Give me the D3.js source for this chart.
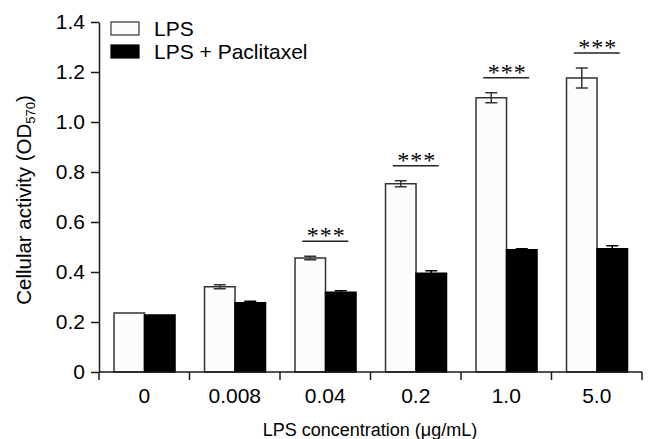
<!DOCTYPE html>
<html>
<head>
<meta charset="utf-8">
<script src="https://cdn.jsdelivr.net/npm/d3@7"></script>
<style>
  html, body { margin: 0; padding: 0; background: #fff; }
  svg { display: block; }
  text { font-family: "Liberation Sans", Arial, Helvetica, sans-serif; fill: #000; }
</style>
</head>
<body>
<svg id="chart" width="648" height="439"></svg>
<script>
// ---- data ----
const categories = ["0", "0.008", "0.04", "0.2", "1.0", "5.0"];
const seriesNames = ["LPS", "LPS + Paclitaxel"];
const lpsValues = [0.236, 0.341, 0.456, 0.753, 1.097, 1.176];
const lpsErrors = [0.000, 0.008, 0.007, 0.012, 0.020, 0.040];
const pacValues = [0.228, 0.277, 0.319, 0.395, 0.489, 0.493];
const pacErrors = [0.000, 0.006, 0.006, 0.010, 0.004, 0.012];
const significance = ["", "", "***", "***", "***", "***"];
const yTicks = [0, 0.2, 0.4, 0.6, 0.8, 1.0, 1.2, 1.4];

// ---- layout ----
const svg = d3.select("#chart");
const mLeft = 99, mRight = 642, mTop = 22, mBottom = 372;
const axisColor = "#1a1a1a";

const x0 = d3.scaleBand().domain(categories).range([mLeft, mRight]).padding(0);
const x1 = d3.scaleBand().domain(seriesNames)
  .range([x0.bandwidth() * 0.166, x0.bandwidth() * 0.84]).padding(0);
const y = d3.scaleLinear().domain([0, 1.4]).range([mBottom, mTop]);

const rows = categories.map((c, i) => ({
  cat: c,
  bars: [
    { s: seriesNames[0], v: lpsValues[i], e: lpsErrors[i], fill: "#fcfcfc" },
    { s: seriesNames[1], v: pacValues[i], e: pacErrors[i], fill: "#000" }
  ],
  sig: significance[i]
}));

const g = svg.append("g");

const groups = g.selectAll("g.grp").data(rows).join("g")
  .attr("class", "grp")
  .attr("transform", d => `translate(${x0(d.cat)},0)`);

groups.selectAll("rect").data(d => d.bars).join("rect")
  .attr("x", b => x1(b.s))
  .attr("y", b => y(b.v))
  .attr("width", x1.bandwidth())
  .attr("height", b => y(0) - y(b.v))
  .attr("fill", b => b.fill)
  .attr("stroke", b => b.fill === "#000" ? "#000" : "#333")
  .attr("stroke-width", 1.5);

const capW = 12;
groups.each(function(d) {
  const sel = d3.select(this);
  d.bars.forEach(b => {
    if (b.e <= 0) return;
    const cx = x1(b.s) + x1.bandwidth() / 2;
    const col = b.fill === "#000" ? "#000" : "#333";
    const lo = b.fill === "#000" ? b.v : b.v - b.e;
    sel.append("line").attr("x1", cx).attr("x2", cx)
      .attr("y1", y(b.v + b.e)).attr("y2", y(lo))
      .attr("stroke", col).attr("stroke-width", 1.5);
    sel.append("line").attr("x1", cx - capW / 2).attr("x2", cx + capW / 2)
      .attr("y1", y(b.v + b.e)).attr("y2", y(b.v + b.e))
      .attr("stroke", col).attr("stroke-width", 1.5);
    if (b.fill !== "#000") {
      sel.append("line").attr("x1", cx - capW / 2).attr("x2", cx + capW / 2)
        .attr("y1", y(b.v - b.e)).attr("y2", y(b.v - b.e))
        .attr("stroke", col).attr("stroke-width", 1.5);
    }
  });
  if (d.sig) {
    const topVal = d.bars[0].v + d.bars[0].e;
    const ly = y(topVal) - 15;
    const cx = x0.bandwidth() / 2;
    sel.append("line").attr("x1", cx - 23).attr("x2", cx + 23)
      .attr("y1", ly).attr("y2", ly)
      .attr("stroke", "#222").attr("stroke-width", 1.5);
    sel.append("text").attr("x", cx + 1).attr("y", ly + 2)
      .attr("text-anchor", "middle")
      .style("font-family", "'Liberation Serif', 'Times New Roman', serif")
      .style("font-size", "24px")
      .style("letter-spacing", "1px")
      .text(d.sig);
  }
});

// y axis
const yAxis = d3.axisLeft(y).tickValues(yTicks)
  .tickFormat(v => v === 0 ? "0" : d3.format(".1f")(v))
  .tickSize(8).tickPadding(6).tickSizeOuter(0);
const ya = svg.append("g").attr("transform", `translate(${mLeft},0)`).call(yAxis);
ya.select(".domain").attr("stroke", axisColor).attr("stroke-width", 1.5);
ya.selectAll(".tick line").attr("stroke", axisColor).attr("stroke-width", 1.5);
ya.selectAll(".tick text").style("font-size", "21px").attr("fill", "#000");

// x axis: line with ticks at group boundaries, labels at centers
const xa = svg.append("g").attr("transform", `translate(0,${mBottom})`);
xa.append("line").attr("x1", mLeft).attr("x2", mRight).attr("y1", 0).attr("y2", 0)
  .attr("stroke", axisColor).attr("stroke-width", 1.5);
const bounds = categories.map(c => x0(c)).concat([x0(categories[categories.length - 1]) + x0.bandwidth()]);
xa.selectAll("line.bt").data(bounds).join("line").attr("class", "bt")
  .attr("x1", d => d).attr("x2", d => d).attr("y1", 0).attr("y2", 8)
  .attr("stroke", axisColor).attr("stroke-width", 1.5);
xa.selectAll("text.xl").data(categories).join("text").attr("class", "xl")
  .attr("x", d => x0(d) + x0.bandwidth() / 2).attr("y", 31)
  .attr("text-anchor", "middle").style("font-size", "21px")
  .text(d => d);

// axis titles
svg.append("text").attr("x", 370).attr("y", 436).attr("text-anchor", "middle")
  .style("font-size", "18px")
  .text("LPS concentration (\u03bcg/mL)");

const yt = svg.append("text").attr("transform", "translate(31,200) rotate(-90)")
  .attr("text-anchor", "middle").style("font-size", "20.5px");
yt.append("tspan").text("Cellular activity (OD");
yt.append("tspan").attr("dy", 4).style("font-size", "13px").text("570");
yt.append("tspan").attr("dy", -4).text(")");

// legend
const legend = svg.append("g");
seriesNames.forEach((s, i) => {
  const ly = 22 + i * 23;
  legend.append("rect").attr("x", 111).attr("y", ly).attr("width", 28).attr("height", 13)
    .attr("fill", i === 0 ? "#fcfcfc" : "#000").attr("stroke", i === 0 ? "#333" : "#000")
    .attr("stroke-width", 1.2);
  legend.append("text").attr("x", 154).attr("y", ly + 14).style("font-size", "21px").text(s);
});
</script>
</body>
</html>
